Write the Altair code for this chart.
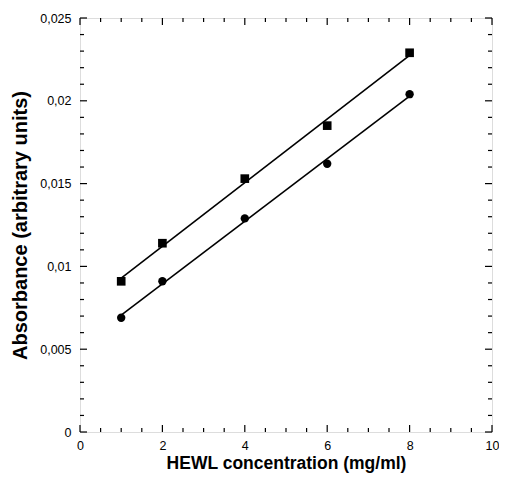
import altair as alt
import pandas as pd

# Data
conc = [1, 2, 4, 6, 8]
abs_square = [0.0091, 0.0114, 0.0153, 0.0185, 0.0229]
abs_circle = [0.0069, 0.0091, 0.0129, 0.0162, 0.0204]

x_major = [0, 2, 4, 6, 8, 10]
x_minor = [0.5, 1, 1.5, 2.5, 3, 3.5, 4.5, 5, 5.5, 6.5, 7, 7.5, 8.5, 9, 9.5]
y_major = [0, 0.005, 0.01, 0.015, 0.02, 0.025]
y_minor = [0.001, 0.002, 0.003, 0.004, 0.006, 0.007, 0.008, 0.009,
           0.011, 0.012, 0.013, 0.014, 0.016, 0.017, 0.018, 0.019,
           0.021, 0.022, 0.023, 0.024]

W, H = 412, 414
FONT = "Liberation Sans"

df = pd.DataFrame({
    "x": conc * 2,
    "y": abs_square + abs_circle,
    "series": ["square"] * len(conc) + ["circle"] * len(conc),
})

xscale = alt.Scale(domain=[0, 10], nice=False, zero=False)
yscale = alt.Scale(domain=[0, 0.025], nice=False, zero=False)

xaxis = alt.Axis(
    values=x_major, ticks=False, domain=False, grid=False,
    labelFont=FONT, labelFontSize=12.5, labelColor="black", labelPadding=7,
    labelFlush=False, labelOverlap=False,
    title="HEWL concentration (mg/ml)", titleFont=FONT, titleFontSize=17.5,
    titleFontWeight="bold", titleColor="black",
    titleX=W / 2, titleY=31, titleBaseline="middle", titleAlign="center",
)
yaxis = alt.Axis(
    values=y_major, ticks=False, domain=False, grid=False,
    labelFont=FONT, labelFontSize=12.5, labelColor="black", labelPadding=9,
    labelFlush=False, labelOverlap=False,
    labelExpr="replace(format(datum.value, '~g'), '.', ',')",
    title="Absorbance (arbitrary units)", titleFont=FONT, titleFontSize=20,
    titleFontWeight="bold", titleColor="black",
    titleX=-60, titleY=H / 2, titleAngle=-90, titleBaseline="middle",
    titleAlign="center",
)

base = alt.Chart(df)

lines = base.transform_regression(
    "x", "y", groupby=["series"]
).mark_line(color="black", strokeWidth=1.6).encode(
    x=alt.X("x:Q", scale=xscale, axis=xaxis),
    y=alt.Y("y:Q", scale=yscale, axis=yaxis),
    detail="series:N",
)

squares = base.transform_filter(alt.datum.series == "square").mark_square(
    color="black", size=75, opacity=1, filled=True
).encode(
    x=alt.X("x:Q", scale=xscale),
    y=alt.Y("y:Q", scale=yscale),
)

circles = base.transform_filter(alt.datum.series == "circle").mark_circle(
    color="black", size=70, opacity=1
).encode(
    x=alt.X("x:Q", scale=xscale),
    y=alt.Y("y:Q", scale=yscale),
)


def xticks(vals, length):
    d = pd.DataFrame({"v": vals})
    bottom = alt.Chart(d).mark_rule(color="black", strokeWidth=1.2).encode(
        x=alt.X("v:Q", scale=xscale), y=alt.value(H), y2=alt.value(H - length)
    )
    top = alt.Chart(d).mark_rule(color="black", strokeWidth=1.2).encode(
        x=alt.X("v:Q", scale=xscale), y=alt.value(0), y2=alt.value(length)
    )
    return [bottom, top]


def yticks(vals, length):
    d = pd.DataFrame({"v": vals})
    left = alt.Chart(d).mark_rule(color="black", strokeWidth=1.2).encode(
        y=alt.Y("v:Q", scale=yscale), x=alt.value(0), x2=alt.value(length)
    )
    right = alt.Chart(d).mark_rule(color="black", strokeWidth=1.2).encode(
        y=alt.Y("v:Q", scale=yscale), x=alt.value(W), x2=alt.value(W - length)
    )
    return [left, right]


tick_layers = xticks(x_major, 7) + xticks(x_minor, 4) + yticks(y_major, 7) + yticks(y_minor, 4)

chart = alt.layer(lines, squares, circles, *tick_layers).properties(
    width=W, height=H,
    autosize=alt.AutoSizeParams(type="none"),
    padding={"left": 72, "top": 10, "right": 7, "bottom": 42},
).configure_view(
    stroke="black", strokeWidth=1.6
).configure(background="white")

chart.save("out.html", embed_options={"renderer": "svg", "actions": False})
